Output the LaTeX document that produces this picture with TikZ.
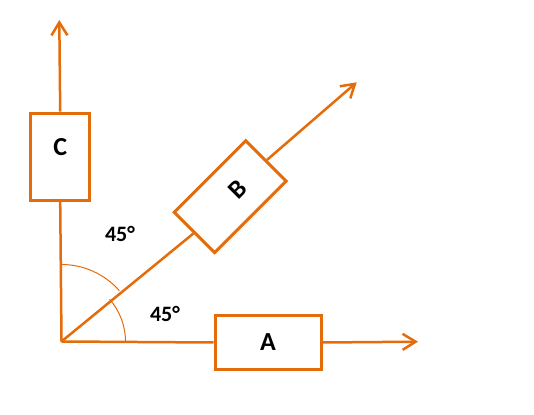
\documentclass[tikz,border=0pt]{standalone}
\usepackage{fontspec}
\setmainfont{Carlito}
\usetikzlibrary{arrows.meta}
\definecolor{dorange}{RGB}{228,108,10}
\tikzset{
    box/.style={draw=dorange,line width=3pt,font=\fontsize{26}{30}\selectfont\bfseries,inner sep=0pt},
    force/.style={draw=dorange,line width=2.5pt},
    pull/.style={force,-{Straight Barb[length=13pt,width=16pt]}},
    angarc/.style={draw=dorange,line width=1pt},
    anglab/.style={font=\fontsize{22}{26}\selectfont\bfseries}
}
\begin{document}
\begin{tikzpicture}[x=1pt,y=1pt]
    \useasboundingbox (0,0) rectangle (534,414);
    \coordinate (O) at (61.5,72.5);
    \coordinate (a) at (418,72.3);
    \coordinate (b) at (356.7,331.7);
    \coordinate (c) at (59.3,394);
    \node[box,minimum width=106pt,minimum height=54pt] (A) at (268,71.5) {A};
    \node[box,minimum width=59pt,minimum height=87pt] (C) at (60.2,257.3) {\raisebox{20pt}{C}};
    \node[box,minimum width=101pt,minimum height=57pt,rotate=45] (B) at (230.2,217.3) {\hspace*{22pt}B};
    \draw[force] (O) -- (A.west);
    \draw[pull] (A.east) -- (a);
    \draw[force] (O) -- (B.west);
    \draw[pull] (B.east) -- (b);
    \draw[force] (O) -- (C.south);
    \draw[pull] (C.north) -- (c);
    \draw[angarc] (O) ++(64,0) arc[start angle=0,end angle=41.3,radius=64];
    \draw[angarc] (O) ++(0,77) arc[start angle=90,end angle=41.3,radius=77];
    \node[anglab] (t1) at (120,180) {45°};
    \node[anglab] (t2) at (165,100) {45°};
\end{tikzpicture}
\end{document}
